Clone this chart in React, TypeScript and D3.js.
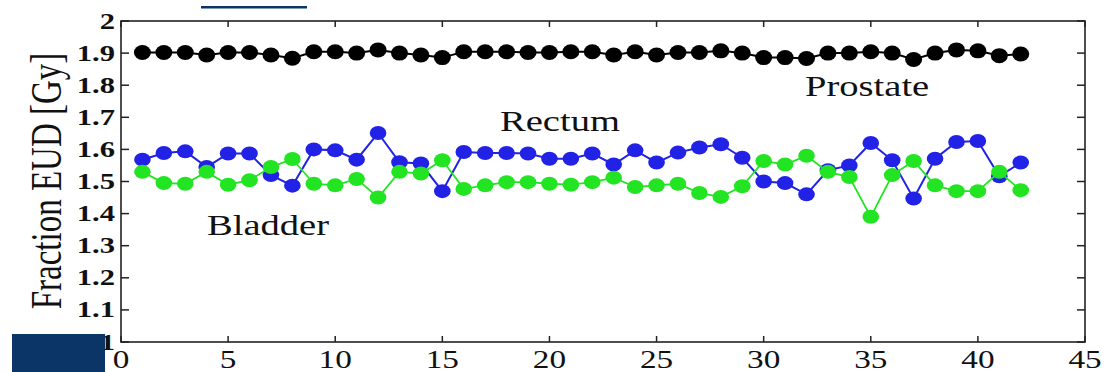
import React from "react";
import * as d3 from "d3";

const fractions = d3.range(1, 43);
const prostate = [1.902, 1.902, 1.902, 1.894, 1.902, 1.902, 1.894, 1.884, 1.904, 1.904, 1.9, 1.91, 1.9, 1.894, 1.886, 1.904, 1.904, 1.904, 1.902, 1.902, 1.904,
  1.904, 1.894, 1.904, 1.894, 1.902, 1.902, 1.907, 1.9, 1.886, 1.886, 1.883, 1.9, 1.9, 1.904, 1.9, 1.88, 1.9, 1.91, 1.907, 1.892, 1.897];
const rectum = [1.568, 1.589, 1.594, 1.545, 1.587, 1.587, 1.52, 1.487, 1.6, 1.597, 1.568, 1.651, 1.56, 1.556, 1.47, 1.592, 1.589, 1.589, 1.587, 1.571, 1.571,
  1.587, 1.553, 1.597, 1.559, 1.59, 1.606, 1.616, 1.574, 1.5, 1.495, 1.46, 1.535, 1.55, 1.62, 1.566, 1.447, 1.571, 1.623, 1.626, 1.516, 1.559];
const bladder = [1.53, 1.495, 1.493, 1.53, 1.49, 1.504, 1.545, 1.57, 1.493, 1.488, 1.508, 1.45, 1.53, 1.525, 1.566, 1.477, 1.488, 1.498, 1.498, 1.493, 1.49,
  1.498, 1.512, 1.483, 1.488, 1.493, 1.464, 1.452, 1.485, 1.564, 1.553, 1.58, 1.53, 1.514, 1.39, 1.52, 1.564, 1.488, 1.47, 1.47, 1.53, 1.473];
const xTicks = [0, 5, 10, 15, 20, 25, 30, 35, 40, 45];
const yTicks = [1, 1.1, 1.2, 1.3, 1.4, 1.5, 1.6, 1.7, 1.8, 1.9, 2];

const W = 1107, H = 372;
const L = 121, R = 1085, T = 21, B = 342;
const SX = 1.33;
const FONT = "Liberation Serif, Times New Roman, serif";

export default function App() {
  const x = d3.scaleLinear().domain([0, 45]).range([L, R]);
  const y = d3.scaleLinear().domain([1, 2]).range([B, T]);
  const line = (vals: number[]) =>
    d3.line<number>().x((_, i) => x(fractions[i])).y((v) => y(v))(vals) || "";

  const series = [
    { vals: rectum, color: "#2222e6", w: 2, rx: 8.3, ry: 7 },
    { vals: bladder, color: "#22e422", w: 1.8, rx: 8.3, ry: 7 },
    { vals: prostate, color: "#000000", w: 2, rx: 8.5, ry: 7.5 },
  ];

  const stretchText = (tx: number, ty: number, text: string, size: number, anchor: string, bold = false, key?: any) => (
    <text key={key} transform={`translate(${tx},${ty}) scale(${SX},1)`} fontFamily={FONT} fontSize={size}
      textAnchor={anchor} fontWeight={bold ? "bold" : "normal"} fill="#111">{text}</text>
  );

  return (
    <svg width={W} height={H} style={{ position: "absolute", left: 0, top: 0, background: "#fff" }}>
      <rect x={0} y={0} width={W} height={H} fill="#fff" />
      <rect x={L} y={T} width={R - L} height={B - T} fill="none" stroke="#222" strokeWidth={1.6} />
      {xTicks.map((t) => (
        <g key={"xt" + t}>
          <line x1={x(t)} x2={x(t)} y1={B} y2={B - 6} stroke="#222" strokeWidth={1.5} />
          <line x1={x(t)} x2={x(t)} y1={T} y2={T + 6} stroke="#222" strokeWidth={1.5} />
          {stretchText(x(t), 368, String(t), 25, "middle")}
        </g>
      ))}
      {yTicks.map((t) => (
        <g key={"yt" + t}>
          <line x1={L} x2={L + 8} y1={y(t)} y2={y(t)} stroke="#222" strokeWidth={1.5} />
          <line x1={R} x2={R - 8} y1={y(t)} y2={y(t)} stroke="#222" strokeWidth={1.5} />
          {stretchText(115, y(t) + 7.5, t === 1 || t === 2 ? String(t) : t.toFixed(1), 23, "end", true)}
        </g>
      ))}
      <text transform={`translate(61,181) scale(${SX},1) rotate(-90)`} fontFamily={FONT} fontSize={33}
        textAnchor="middle" fill="#111">Fraction EUD [Gy]</text>
      {series.map((s, si) => (
        <g key={"s" + si}>
          <path d={line(s.vals)} fill="none" stroke={s.color} strokeWidth={s.w} />
          {s.vals.map((v, i) => (
            <ellipse key={i} cx={x(fractions[i])} cy={y(v)} rx={s.rx} ry={s.ry} fill={s.color} />
          ))}
        </g>
      ))}
      {stretchText(805, 96, "Prostate", 29, "start")}
      {stretchText(500, 131, "Rectum", 29, "start")}
      {stretchText(207, 235, "Bladder", 29, "start")}
      <rect x={12} y={334} width={93} height={38} fill="#0a3566" />
      <rect x={201} y={6} width={106} height={2.5} fill="#0a3566" />
    </svg>
  );
}
